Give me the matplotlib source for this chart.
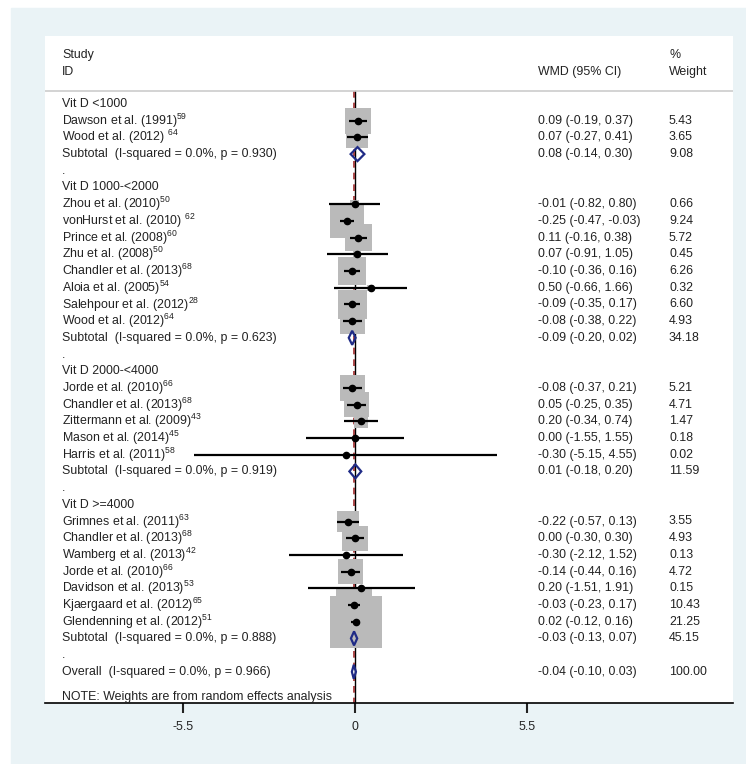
import numpy as np
import matplotlib
matplotlib.use("Agg")
import matplotlib.pyplot as plt
from matplotlib.patches import Rectangle, Polygon
from matplotlib.transforms import blended_transform_factory

plt.rcParams['font.family'] = ['Liberation Sans', 'DejaVu Sans']
plt.rcParams['mathtext.fontset'] = 'custom'
plt.rcParams['mathtext.rm'] = 'Liberation Sans'
plt.rcParams['mathtext.it'] = 'Liberation Sans:italic'
plt.rcParams['mathtext.bf'] = 'Liberation Sans:bold'

# ---- data (kind: g = group header, s = study, t = subtotal, b = blank, o = overall)
labels = [
    "Vit D <1000",
    "Dawson et al. (1991)$^{\\mathrm{59}}$",
    "Wood et al. (2012) $^{\\mathrm{64}}$",
    "Subtotal  (I-squared = 0.0%, p = 0.930)",
    ".",
    "Vit D 1000-<2000",
    "Zhou et al. (2010)$^{\\mathrm{50}}$",
    "vonHurst et al. (2010) $^{\\mathrm{62}}$",
    "Prince et al. (2008)$^{\\mathrm{60}}$",
    "Zhu et al. (2008)$^{\\mathrm{50}}$",
    "Chandler et al. (2013)$^{\\mathrm{68}}$",
    "Aloia et al. (2005)$^{\\mathrm{54}}$",
    "Salehpour et al. (2012)$^{\\mathrm{28}}$",
    "Wood et al. (2012)$^{\\mathrm{64}}$",
    "Subtotal  (I-squared = 0.0%, p = 0.623)",
    ".",
    "Vit D 2000-<4000",
    "Jorde et al. (2010)$^{\\mathrm{66}}$",
    "Chandler et al. (2013)$^{\\mathrm{68}}$",
    "Zittermann et al. (2009)$^{\\mathrm{43}}$",
    "Mason et al. (2014)$^{\\mathrm{45}}$",
    "Harris et al. (2011)$^{\\mathrm{58}}$",
    "Subtotal  (I-squared = 0.0%, p = 0.919)",
    ".",
    "Vit D >=4000",
    "Grimnes et al. (2011)$^{\\mathrm{63}}$",
    "Chandler et al. (2013)$^{\\mathrm{68}}$",
    "Wamberg et al. (2013)$^{\\mathrm{42}}$",
    "Jorde et al. (2010)$^{\\mathrm{66}}$",
    "Davidson et al. (2013)$^{\\mathrm{53}}$",
    "Kjaergaard et al. (2012)$^{\\mathrm{65}}$",
    "Glendenning et al. (2012)$^{\\mathrm{51}}$",
    "Subtotal  (I-squared = 0.0%, p = 0.888)",
    ".",
    "Overall  (I-squared = 0.0%, p = 0.966)",
]
kinds = ("g s s t b "
         "g s s s s s s s s t b "
         "g s s s s s t b "
         "g s s s s s s s t b o").split()
est = [None, 0.09, 0.07, 0.08, None,
       None, -0.01, -0.25, 0.11, 0.07, -0.10, 0.50, -0.09, -0.08, -0.09, None,
       None, -0.08, 0.05, 0.20, 0.00, -0.30, 0.01, None,
       None, -0.22, 0.00, -0.30, -0.14, 0.20, -0.03, 0.02, -0.03, None, -0.04]
lower = [None, -0.19, -0.27, -0.14, None,
         None, -0.82, -0.47, -0.16, -0.91, -0.36, -0.66, -0.35, -0.38, -0.20, None,
         None, -0.37, -0.25, -0.34, -1.55, -5.15, -0.18, None,
         None, -0.57, -0.30, -2.12, -0.44, -1.51, -0.23, -0.12, -0.13, None, -0.10]
upper = [None, 0.37, 0.41, 0.30, None,
         None, 0.80, -0.03, 0.38, 1.05, 0.16, 1.66, 0.17, 0.22, 0.02, None,
         None, 0.21, 0.35, 0.74, 1.55, 4.55, 0.20, None,
         None, 0.13, 0.30, 1.52, 0.16, 1.91, 0.17, 0.16, 0.07, None, 0.03]
weights = [None, 5.43, 3.65, 9.08, None,
           None, 0.66, 9.24, 5.72, 0.45, 6.26, 0.32, 6.60, 4.93, 34.18, None,
           None, 5.21, 4.71, 1.47, 0.18, 0.02, 11.59, None,
           None, 3.55, 4.93, 0.13, 4.72, 0.15, 10.43, 21.25, 45.15, None, 100.00]
xticks = [-5.5, 0, 5.5]

# ---- layout (pixels of a 746x764 image)
W, H = 746, 764
X0_PX, PX_PER_UNIT = 355, 31.3      # position of 0 and scale of the x axis
ROW0_PX, ROW_PX = 104, 16.7          # first row and row spacing
PANEL = (45, 36, 733, 703)           # white panel left, top, right, bottom

fig = plt.figure(figsize=(W / 100, H / 100), dpi=100)
fig.patch.set_facecolor('white')
fig.add_artist(Rectangle((11 / W, 0), 1 - 11 / W, (H - 8) / H,
                         transform=fig.transFigure, color='#eaf3f6', zorder=0))

l, t, r, b = PANEL
ax = fig.add_axes([l / W, (H - b) / H, (r - l) / W, (b - t) / H])
ax.set_facecolor('white')
ax.set_xlim((l - X0_PX) / PX_PER_UNIT, (r - X0_PX) / PX_PER_UNIT)
ax.set_ylim((b - ROW0_PX) / ROW_PX, (t - ROW0_PX) / ROW_PX)
for s in ['top', 'left', 'right']:
    ax.spines[s].set_visible(False)
ax.spines['bottom'].set_linewidth(1.2)
ax.set_yticks([])
ax.set_xticks(xticks)
ax.set_xticklabels(['-5.5', '0', '5.5'])
txtc = '#222222'
fs = 8.9
ax.tick_params(axis='x', length=7, width=1.5, labelsize=fs, pad=6, color=txtc,
               labelcolor=txtc)

tr = blended_transform_factory(ax.transAxes, ax.transData)
col_lab, col_ci, col_w = (62 - l) / (r - l), (538 - l) / (r - l), (669 - l) / (r - l)

# header
sep_y = (91 - ROW0_PX) / ROW_PX
ax.text(col_lab, (55 - ROW0_PX) / ROW_PX, "Study", transform=tr, fontsize=fs, va='center', color=txtc)
ax.text(col_lab, (72 - ROW0_PX) / ROW_PX, "ID", transform=tr, fontsize=fs, va='center', color=txtc)
ax.text(col_ci, (72 - ROW0_PX) / ROW_PX, "WMD (95% CI)", transform=tr, fontsize=fs, va='center', color=txtc)
ax.text(col_w, (55 - ROW0_PX) / ROW_PX, "%", transform=tr, fontsize=fs, va='center', color=txtc)
ax.text(col_w, (72 - ROW0_PX) / ROW_PX, "Weight", transform=tr, fontsize=fs, va='center', color=txtc)
ax.plot([0, 1], [sep_y, sep_y], transform=tr, color='#cccccc', lw=1.2)

n = len(labels)
bottom_y = (b - ROW0_PX) / ROW_PX
# null line and overall line
ax.plot([0, 0], [sep_y, bottom_y], color='black', lw=1.0, zorder=1)
overall_row = kinds.index('o')
ax.plot([est[overall_row]] * 2, [sep_y, bottom_y], color='#9e2a2b', lw=1.2,
        dashes=(4, 3), zorder=1.5)

for i in range(n):
    y = i
    ax.text(col_lab, y, labels[i], transform=tr, fontsize=fs, va='center', color=txtc)
    k = kinds[i]
    if est[i] is None:
        continue
    ax.text(col_ci, y, "%.2f (%.2f, %.2f)" % (est[i], lower[i], upper[i]),
            transform=tr, fontsize=fs, va='center', color=txtc)
    ax.text(col_w, y, "%.2f" % weights[i], transform=tr, fontsize=fs, va='center', color=txtc)
    if k == 's':
        side = 11.3 * np.sqrt(weights[i])
        bw, bh = side / PX_PER_UNIT, side / ROW_PX
        ax.add_patch(Rectangle((est[i] - bw / 2, y - bh / 2), bw, bh,
                               facecolor='#bababa', edgecolor='none', zorder=2))
        ax.plot([lower[i], upper[i]], [y, y], color='black', lw=1.6, zorder=3,
                solid_capstyle='butt')
        ax.plot(est[i], y, 'o', color='black', ms=4.5, zorder=4)
    else:
        dh = 0.42
        ax.add_patch(Polygon([[lower[i], y], [est[i], y - dh], [upper[i], y], [est[i], y + dh]],
                             closed=True, facecolor='none', edgecolor='#1f2b86',
                             lw=1.6, zorder=4))

ax.text(col_lab, (697 - ROW0_PX) / ROW_PX, "NOTE: Weights are from random effects analysis",
        transform=tr, fontsize=fs, va='center', color=txtc)

fig.savefig('out.png', dpi=100, facecolor=fig.get_facecolor())
